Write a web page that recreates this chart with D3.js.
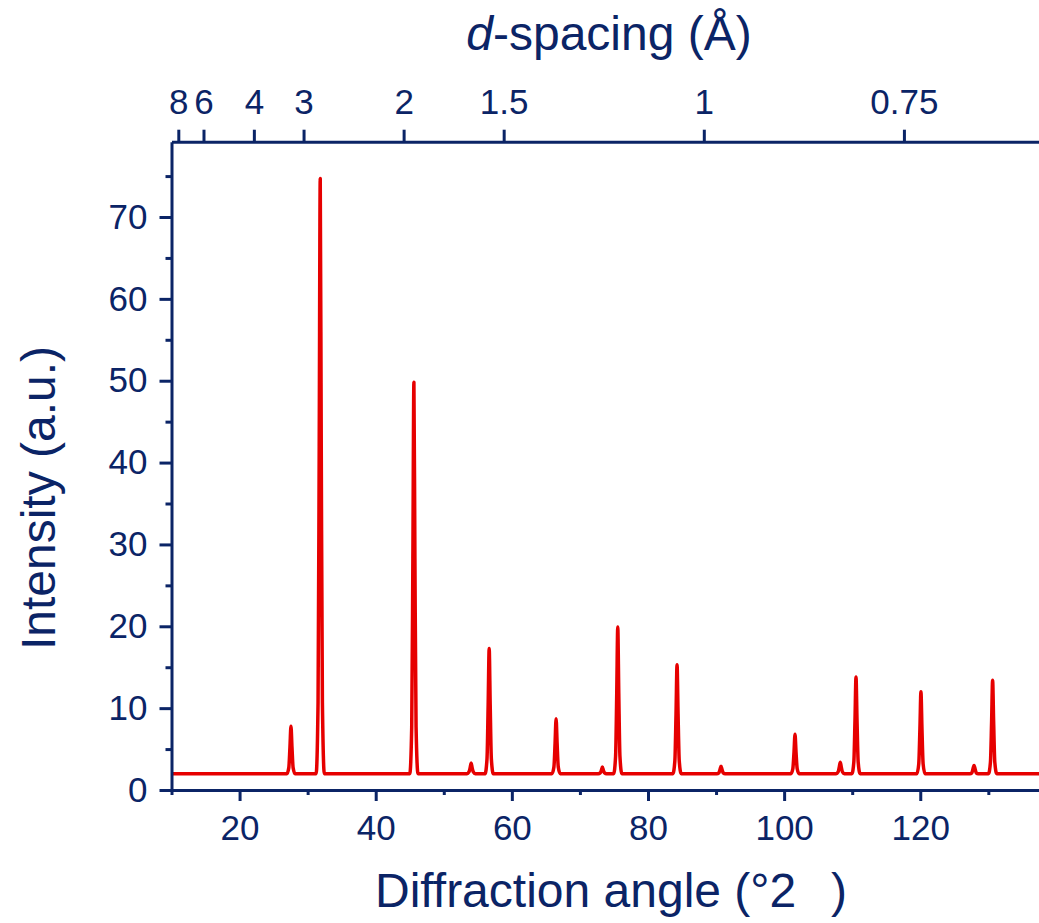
<!DOCTYPE html>
<html>
<head>
<meta charset="utf-8">
<script src="https://cdn.jsdelivr.net/npm/d3@7"></script>
<style>
body { margin: 0; background: #fff; }
text { font-family: "Liberation Sans", Arial, sans-serif; fill: #0b2466; }
</style>
</head>
<body>
<div id="chart"></div>
<script>
// diffraction trace: [2theta, intensity]
const trace = [
    [10, 2.0],
    [26.95, 2.0], [27.23, 2.7], [27.40, 5.2], [27.55, 7.8], [27.70, 5.2], [27.87, 2.7], [28.15, 2.0],
    [31.25, 2.0], [31.53, 10.7], [31.70, 42.0], [31.85, 74.7], [32.00, 42.0], [32.17, 10.7], [32.45, 2.0],
    [45.01, 2.0], [45.29, 7.7], [45.46, 28.3], [45.61, 49.8], [45.76, 28.3], [45.93, 7.7], [46.21, 2.0],
    [53.42, 2.0], [53.70, 2.2], [53.87, 2.7], [54.02, 3.3], [54.17, 2.7], [54.34, 2.2], [54.62, 2.0],
    [56.07, 2.0], [56.35, 3.8], [56.52, 10.4], [56.67, 17.3], [56.82, 10.4], [56.99, 3.8], [57.27, 2.0],
    [65.90, 2.0], [66.18, 2.8], [66.35, 5.7], [66.50, 8.7], [66.65, 5.7], [66.82, 2.8], [67.10, 2.0],
    [72.70, 2.0], [72.98, 2.1], [73.15, 2.4], [73.30, 2.8], [73.45, 2.4], [73.62, 2.1], [73.90, 2.0],
    [74.96, 2.0], [75.24, 4.1], [75.41, 11.8], [75.56, 19.9], [75.71, 11.8], [75.88, 4.1], [76.16, 2.0],
    [83.67, 2.0], [83.95, 3.6], [84.12, 9.3], [84.27, 15.3], [84.42, 9.3], [84.59, 3.6], [84.87, 2.0],
    [90.13, 2.0], [90.41, 2.1], [90.58, 2.5], [90.73, 2.9], [90.88, 2.5], [91.05, 2.1], [91.33, 2.0],
    [101.00, 2.0], [101.28, 2.6], [101.45, 4.6], [101.60, 6.8], [101.75, 4.6], [101.92, 2.6], [102.20, 2.0],
    [107.65, 2.0], [107.93, 2.2], [108.10, 2.8], [108.25, 3.4], [108.40, 2.8], [108.57, 2.2], [108.85, 2.0],
    [109.96, 2.0], [110.24, 3.4], [110.41, 8.5], [110.56, 13.8], [110.71, 8.5], [110.88, 3.4], [111.16, 2.0],
    [119.50, 2.0], [119.78, 3.2], [119.95, 7.5], [120.10, 12.0], [120.25, 7.5], [120.42, 3.2], [120.70, 2.0],
    [127.30, 2.0], [127.58, 2.1], [127.75, 2.6], [127.90, 3.0], [128.05, 2.6], [128.22, 2.1], [128.50, 2.0],
    [130.03, 2.0], [130.31, 3.4], [130.48, 8.3], [130.63, 13.4], [130.78, 8.3], [130.95, 3.4], [131.23, 2.0],
    [140, 2.0]
];

const xMajor = [20, 40, 60, 80, 100, 120];
const xMinor = [10, 30, 50, 70, 90, 110, 130];
const yMajor = [0, 10, 20, 30, 40, 50, 60, 70];
const yMinor = [5, 15, 25, 35, 45, 55, 65, 75];
// top axis: d-spacing labels and the 2theta where each one sits
const dLabels = ["8", "6", "4", "3", "2", "1.5", "1", "0.75"];
const dAngles = [11.0, 14.7, 22.1, 29.4, 44.1, 58.8, 88.2, 117.6];

const navy = "#0b2466";
const red = "#e60000";

const svg = d3.select("#chart")
    .append("svg")
    .attr("width", 1039)
    .attr("height", 923);

const x = d3.scaleLinear()
    .domain([10, 140])
    .range([171.5, 1056.4]);

const y = d3.scaleLinear()
    .domain([0, 79.2])
    .range([790, 141.7]);

// trace
const line = d3.line()
    .x(d => x(d[0]))
    .y(d => y(d[1]))
    .curve(d3.curveMonotoneX);

svg.append("path")
    .datum(trace)
    .attr("d", line)
    .attr("fill", "none")
    .attr("stroke", red)
    .attr("stroke-width", 3.5)
    .attr("stroke-linejoin", "round");

function styleAxis(g, size) {
    g.selectAll("path.domain").attr("stroke", navy).attr("stroke-width", 3);
    g.selectAll(".tick line").attr("stroke", navy).attr("stroke-width", 3);
    g.selectAll(".tick text").style("font-size", size + "px").attr("fill", navy);
}

// bottom axis
const xAxisG = svg.append("g")
    .attr("transform", "translate(0,790)")
    .call(d3.axisBottom(x).tickValues(xMajor).tickSize(11).tickSizeOuter(0).tickPadding(14));
styleAxis(xAxisG, 35);

const xMinorG = svg.append("g")
    .attr("transform", "translate(0,790)")
    .call(d3.axisBottom(x).tickValues(xMinor).tickSize(5).tickFormat(""));
xMinorG.select("path.domain").remove();
styleAxis(xMinorG, 35);

// left axis
const yAxisG = svg.append("g")
    .attr("transform", "translate(171.5,0)")
    .call(d3.axisLeft(y).tickValues(yMajor).tickSize(12).tickSizeOuter(0).tickPadding(12));
styleAxis(yAxisG, 35);

const yMinorG = svg.append("g")
    .attr("transform", "translate(171.5,0)")
    .call(d3.axisLeft(y).tickValues(yMinor).tickSize(6).tickFormat(""));
yMinorG.select("path.domain").remove();
styleAxis(yMinorG, 35);

// top axis (d-spacing)
const topAxisG = svg.append("g")
    .attr("transform", "translate(0,141.7)")
    .call(d3.axisTop(x).tickValues(dAngles).tickFormat((d, i) => dLabels[i])
        .tickSize(12).tickSizeOuter(0).tickPadding(16));
styleAxis(topAxisG, 35);

// titles
const xTitle = svg.append("text")
    .attr("x", 375)
    .attr("y", 907)
    .style("font-size", "48px")
    .style("white-space", "pre");
xTitle.append("tspan").text("Diffraction angle (°2");
xTitle.append("tspan").attr("dx", 8).text("  )");

svg.append("text")
    .attr("transform", "translate(55,498) rotate(-90)")
    .attr("text-anchor", "middle")
    .style("font-size", "48px")
    .text("Intensity (a.u.)");

const topTitle = svg.append("text")
    .attr("x", 609)
    .attr("y", 50)
    .attr("text-anchor", "middle")
    .style("font-size", "48px");
topTitle.append("tspan").style("font-style", "italic").text("d");
topTitle.append("tspan").text("-spacing (Å)");
</script>
</body>
</html>
